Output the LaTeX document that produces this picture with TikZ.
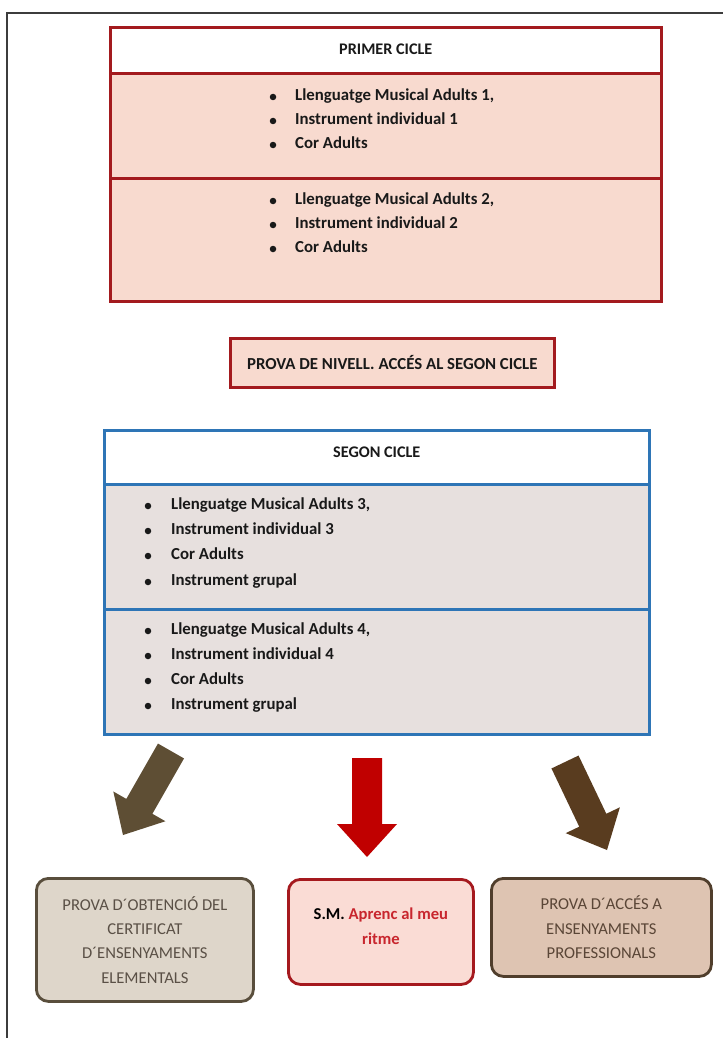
\documentclass[tikz,border=0pt]{standalone}
\usepackage{fontspec}
\setmainfont{Carlito}
\usetikzlibrary{calc}
\definecolor{primred}{RGB}{163,26,30}
\definecolor{primfill}{RGB}{248,218,207}
\definecolor{segblue}{RGB}{46,117,182}
\definecolor{segfill}{RGB}{231,224,222}
\definecolor{leftbrown}{RGB}{94,78,52}
\definecolor{rightbrown}{RGB}{89,60,31}
\definecolor{midred}{RGB}{192,0,0}
\definecolor{lboxfill}{RGB}{222,214,202}
\definecolor{lboxdraw}{RGB}{89,78,60}
\definecolor{lboxtext}{RGB}{90,80,70}
\definecolor{mboxfill}{RGB}{250,220,213}
\definecolor{mboxdraw}{RGB}{165,25,30}
\definecolor{mboxred}{RGB}{200,38,46}
\definecolor{rboxfill}{RGB}{222,196,178}
\definecolor{rboxdraw}{RGB}{80,62,44}
\definecolor{rboxtext}{RGB}{90,70,55}
\definecolor{txtblack}{RGB}{25,25,25}
\definecolor{framegray}{RGB}{60,60,60}
\newcommand{\itemline}[5]{%
  \node[dot] (#1-b) at (#2,#4) {};
  \node[itemtext] (#1) at (#3,#4) {#5};}
\newcommand{\myblockarrow}[3]{%
  \coordinate (#3-h) at ($(#2)!33pt!(#1)$);
  \fill[#3col] ($(#1)!15pt!90:(#2)$) -- ($(#3-h)!15pt!90:(#2)$) -- ($(#3-h)!30pt!90:(#2)$) -- (#2)
    -- ($(#3-h)!30pt!-90:(#2)$) -- ($(#3-h)!15pt!-90:(#2)$) -- ($(#1)!15pt!-90:(#2)$) -- cycle;}
\colorlet{lacol}{leftbrown}
\colorlet{macol}{midred}
\colorlet{racol}{rightbrown}
\tikzset{
  redsec/.style={draw=primred, line width=2.6pt, fill=primfill, anchor=north west, inner sep=0pt},
  bluesec/.style={draw=segblue, line width=2.6pt, fill=segfill, anchor=north west, inner sep=0pt},
  title/.style={font=\bfseries\fontsize{16.2}{18}\selectfont, text=txtblack, inner sep=0pt},
  itemtext/.style={anchor=west, inner sep=0pt, text height=11pt, text depth=4pt,
    font=\bfseries\fontsize{16.8}{18}\selectfont, text=txtblack},
  dot/.style={circle, fill=txtblack, inner sep=0pt, minimum size=6.5pt},
  endbox/.style={rounded corners=12pt, line width=2.8pt, anchor=north west, inner sep=0pt},
  endtext/.style={align=center, inner sep=0pt, font=\fontsize{16.6}{24.3}\selectfont},
  framestyle/.style={draw=framegray, line width=1.4pt}
}
\begin{document}
\begin{tikzpicture}[x=1pt,y=-1pt]
\useasboundingbox (0,0) rectangle (723,1038);
\fill[white] (0,0) rectangle (723,1038);
% outer frame
\coordinate (fr-a) at (7,1038);
\coordinate (fr-b) at (7,13);
\coordinate (fr-c) at (723,13);
\draw[framestyle] (fr-a) -- (fr-b) -- (fr-c);

% PRIMER CICLE
\node[redsec, fill=white, minimum width=551pt, minimum height=46pt] (p-head) at (109,26) {};
\node[redsec, minimum width=551pt, minimum height=105pt] (p-one) at (109,72) {};
\node[redsec, minimum width=551pt, minimum height=123pt] (p-two) at (109,177) {};
\node[title] (p-title) at ($(p-head.center)+(0,-1)$) {PRIMER CICLE};
\itemline{p1a}{273}{295}{97}{Llenguatge Musical Adults 1,}
\itemline{p1b}{273}{295}{121}{Instrument individual 1}
\itemline{p1c}{273}{295}{145}{Cor Adults}
\itemline{p2a}{273}{295}{201}{Llenguatge Musical Adults 2,}
\itemline{p2b}{273}{295}{225}{Instrument individual 2}
\itemline{p2c}{273}{295}{249}{Cor Adults}

% PROVA DE NIVELL
\node[redsec, minimum width=324pt, minimum height=49pt] (prova) at (229,337) {};
\node[title, font=\bfseries\fontsize{16.8}{18}\selectfont] (prova-t) at (prova.center) {PROVA DE NIVELL. ACCÉS AL SEGON CICLE};

% SEGON CICLE
\node[bluesec, fill=white, minimum width=545pt, minimum height=54pt] (s-head) at (103,429) {};
\node[bluesec, minimum width=545pt, minimum height=125pt] (s-one) at (103,483) {};
\node[bluesec, minimum width=545pt, minimum height=125pt] (s-two) at (103,608) {};
\node[title] (s-title) at ($(s-head.center)+(0,-5)$) {SEGON CICLE};
\itemline{s1a}{148}{171}{506}{Llenguatge Musical Adults 3,}
\itemline{s1b}{148}{171}{531}{Instrument individual 3}
\itemline{s1c}{148}{171}{556}{Cor Adults}
\itemline{s1d}{148}{171}{582}{Instrument grupal}
\itemline{s2a}{148}{171}{631}{Llenguatge Musical Adults 4,}
\itemline{s2b}{148}{171}{656}{Instrument individual 4}
\itemline{s2c}{148}{171}{681}{Cor Adults}
\itemline{s2d}{148}{171}{706}{Instrument grupal}

% arrows
\coordinate (la-t) at (171,751);
\coordinate (la-p) at (123,835);
\coordinate (ma-t) at (367,758);
\coordinate (ma-p) at (367,857);
\coordinate (ra-t) at (565,762);
\coordinate (ra-p) at (607,850);
\myblockarrow{la-t}{la-p}{la}
\myblockarrow{ma-t}{ma-p}{ma}
\myblockarrow{ra-t}{ra-p}{ra}

% bottom boxes
\node[endbox, draw=lboxdraw, fill=lboxfill, minimum width=217pt, minimum height=123pt] (b-left) at (35,877) {};
\node[endtext, text=lboxtext] (b-left-t) at (b-left.center) {PROVA D´OBTENCIÓ DEL\\CERTIFICAT\\D´ENSENYAMENTS\\ELEMENTALS};
\node[endbox, draw=mboxdraw, fill=mboxfill, minimum width=185pt, minimum height=105pt] (b-mid) at (287,878) {};
\node[endtext, font=\bfseries\fontsize{16.6}{25}\selectfont] (b-mid-t) at ($(b-mid.center)+(0,-6)$) {S.M. \textcolor{mboxred}{Aprenc al meu}\\\textcolor{mboxred}{ritme}};
\node[endbox, draw=rboxdraw, fill=rboxfill, minimum width=220pt, minimum height=98pt] (b-right) at (490,877) {};
\node[endtext, text=rboxtext] (b-right-t) at (b-right.center) {PROVA D´ACCÉS A\\ENSENYAMENTS\\PROFESSIONALS};
\end{tikzpicture}
\end{document}
